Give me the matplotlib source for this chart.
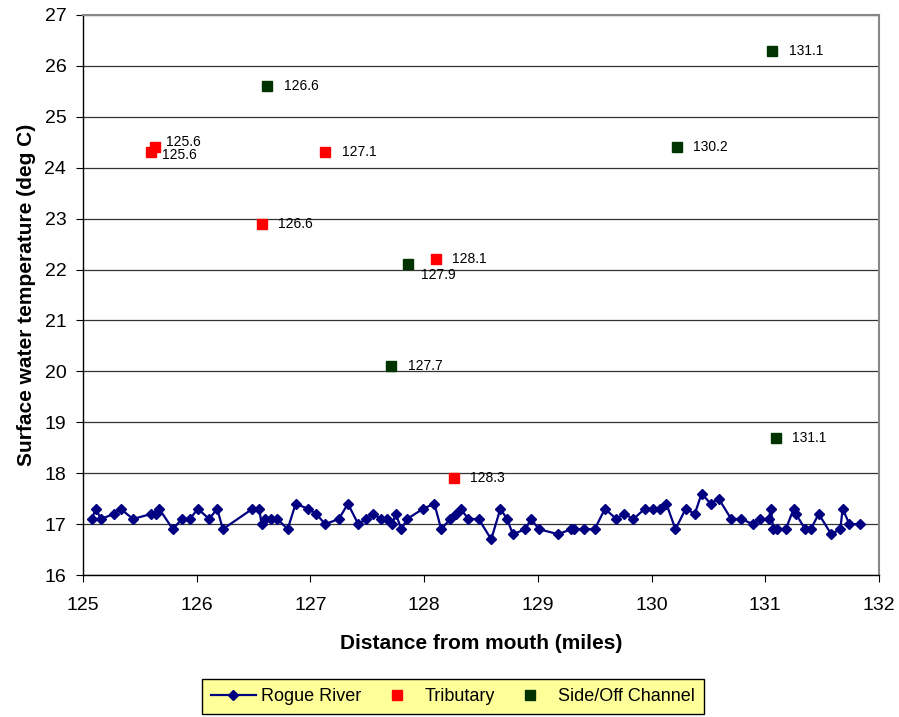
"""Surface water temperature along the Rogue River, with tributary and side-channel sites."""

import matplotlib
import matplotlib.pyplot as plt

matplotlib.use("Agg")

plt.rcParams["font.family"] = ["Liberation Sans", "DejaVu Sans"]

# Main-stem river readings (river mile, deg C)
river_miles = [
    125.08, 125.11, 125.16, 125.27, 125.33, 125.44, 125.60, 125.64, 125.67, 125.79,
    125.87, 125.94, 126.01, 126.11, 126.18, 126.23, 126.49, 126.55, 126.57, 126.60,
    126.65, 126.71, 126.80, 126.87, 126.98, 127.05, 127.13, 127.25, 127.33, 127.42,
    127.49, 127.55, 127.62, 127.67, 127.72, 127.75, 127.80, 127.85, 127.99, 128.09,
    128.15, 128.23, 128.28, 128.32, 128.39, 128.48, 128.59, 128.67, 128.73, 128.78,
    128.89, 128.94, 129.01, 129.18, 129.29, 129.32, 129.41, 129.50, 129.59, 129.69,
    129.76, 129.84, 129.94, 130.01, 130.07, 130.13, 130.21, 130.30, 130.38, 130.44,
    130.52, 130.59, 130.70, 130.79, 130.89, 130.95, 131.03, 131.05, 131.07, 131.10,
    131.18, 131.25, 131.27, 131.35, 131.40, 131.47, 131.58, 131.66, 131.68, 131.74,
    131.83,
]
river_temps = [
    17.1, 17.3, 17.1, 17.2, 17.3, 17.1, 17.2, 17.2, 17.3, 16.9,
    17.1, 17.1, 17.3, 17.1, 17.3, 16.9, 17.3, 17.3, 17.0, 17.1,
    17.1, 17.1, 16.9, 17.4, 17.3, 17.2, 17.0, 17.1, 17.4, 17.0,
    17.1, 17.2, 17.1, 17.1, 17.0, 17.2, 16.9, 17.1, 17.3, 17.4,
    16.9, 17.1, 17.2, 17.3, 17.1, 17.1, 16.7, 17.3, 17.1, 16.8,
    16.9, 17.1, 16.9, 16.8, 16.9, 16.9, 16.9, 16.9, 17.3, 17.1,
    17.2, 17.1, 17.3, 17.3, 17.3, 17.4, 16.9, 17.3, 17.2, 17.6,
    17.4, 17.5, 17.1, 17.1, 17.0, 17.1, 17.1, 17.3, 16.9, 16.9,
    16.9, 17.3, 17.2, 16.9, 16.9, 17.2, 16.8, 16.9, 17.3, 17.0,
    17.0,
]

# Tributary mouths
trib_miles = [125.60, 125.63, 126.57, 127.13, 128.10, 128.26]
trib_temps = [24.3, 24.4, 22.9, 24.3, 22.2, 17.9]

# Side / off-channel sites
side_miles = [126.62, 127.86, 127.71, 130.22, 131.06, 131.09]
side_temps = [25.6, 22.1, 20.1, 24.4, 26.3, 18.7]

# label offsets in points (dx, dy) for each point
trib_offsets = [(8, -1.5), (8, 4), (12, 0), (12, 0), (12, 0), (12, 0)]
side_offsets = [(12, 0), (9, -7.5), (12, 0), (12, 0), (12, 0), (12, 0)]

fig = plt.figure(figsize=(8.99, 7.17), dpi=100)
ax = fig.add_axes([83 / 899, 1 - 575 / 717, (879 - 83) / 899, (575 - 15) / 717])

ax.set_xlim(125, 132)
ax.set_ylim(16, 27)
ax.set_xticks(range(125, 133))
ax.set_yticks(range(16, 28))
ax.grid(axis="y", color="#333333", linewidth=0.9)
ax.set_axisbelow(True)

ax.plot(river_miles, river_temps, color="#000080", linewidth=1.6,
        marker="D", markersize=5.5, label="Rogue River", zorder=3)
ax.plot(trib_miles, trib_temps, linestyle="none", marker="s", markersize=7,
        color="#FF0000", label="Tributary", zorder=3)
ax.plot(side_miles, side_temps, linestyle="none", marker="s", markersize=7,
        color="#003300", label="Side/Off Channel", zorder=3)

for xs, ys, offs in [(trib_miles, trib_temps, trib_offsets),
                     (side_miles, side_temps, side_offsets)]:
    for x, y, (dx, dy) in zip(xs, ys, offs):
        ax.annotate(f"{x:.1f}", (x, y), xytext=(dx, dy), textcoords="offset points",
                    ha="left", va="center", fontsize=10)

for side in ["top", "right"]:
    ax.spines[side].set_color("#888888")
    ax.spines[side].set_linewidth(1.5)
for side in ["left", "bottom"]:
    ax.spines[side].set_color("black")
    ax.spines[side].set_linewidth(1.0)

ax.tick_params(direction="out", length=5, labelsize=14)
ax.tick_params(axis="x", pad=11)
ax.tick_params(axis="y", pad=7)

ax.set_xlabel("Distance from mouth (miles)", fontsize=15, fontweight="bold", labelpad=14)
ax.set_ylabel("Surface water temperature (deg C)", fontsize=15, fontweight="bold", labelpad=6)

leg = fig.legend(loc="lower center", bbox_to_anchor=(0.504, 0.0), ncol=3, fontsize=13,
                 frameon=True, fancybox=False, borderpad=0.5, handlelength=2.5,
                 columnspacing=0.7, handletextpad=0.3, borderaxespad=0.15)
leg.get_frame().set_facecolor("#FFFF99")
leg.get_frame().set_edgecolor("black")
leg.get_frame().set_alpha(1)

plt.savefig("out.png", dpi=100)
plt.close(fig)
